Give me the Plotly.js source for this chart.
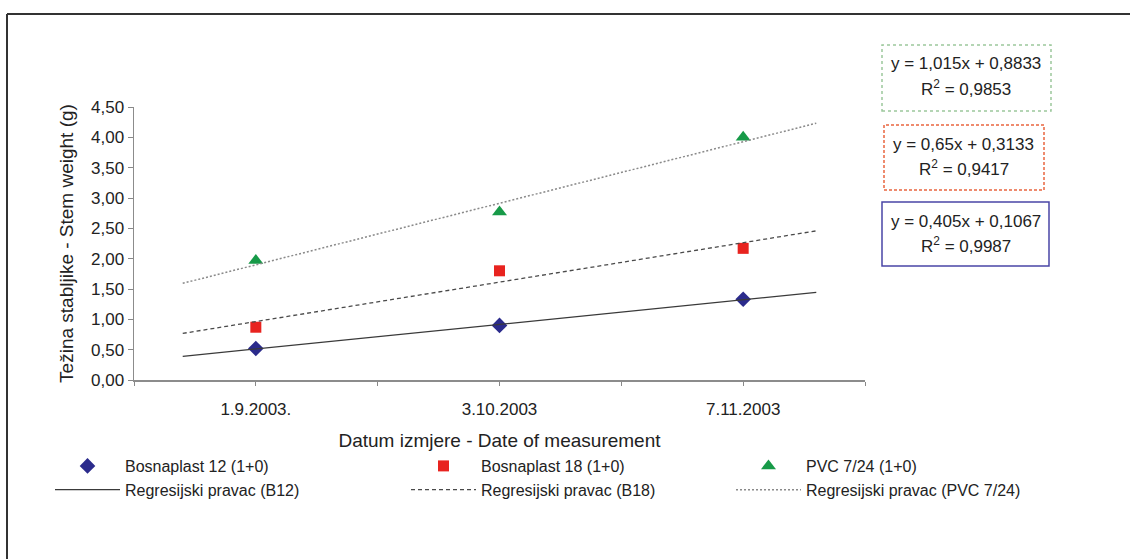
<!DOCTYPE html>
<html>
<head>
<meta charset="utf-8">
<script src="https://cdn.plot.ly/plotly-3.0.1.min.js"></script>
<style>
  html, body { margin: 0; padding: 0; background: #ffffff; }
  #chart { width: 1130px; height: 559px; }
</style>
</head>
<body>
<div id="chart"></div>
<script>
// ---- data ----
const dates = ['1.9.2003.', '3.10.2003', '7.11.2003'];
const bosnaplast12 = [0.52, 0.90, 1.33];
const bosnaplast18 = [0.87, 1.80, 2.17];
const pvc724 = [1.97, 2.77, 4.00];
const seriesNames = ['Bosnaplast 12 (1+0)', 'Bosnaplast 18 (1+0)', 'PVC 7/24 (1+0)'];
const trendNames = ['Regresijski pravac (B12)', 'Regresijski pravac (B18)', 'Regresijski pravac (PVC 7/24)'];
const yTitle = 'Težina stabljike - Stem weight (g)';
const xTitle = 'Datum izmjere - Date of measurement';

// ---- layout geometry (pixels) ----
const W = 1130, H = 559;
const L = 134, R = 865, T = 107, B = 380;
const px2x = p => (p - L) / (R - L);
const px2y = p => (B - p) / (B - T);

const FONT = 'Liberation Sans, Arial, sans-serif';
const idx = dates.map((d, i) => i);

// least squares on Excel-style x = 1..n
function fit(ys) {
  const xs = ys.map((v, i) => i + 1);
  const n = ys.length;
  const mx = xs.reduce((a, b) => a + b, 0) / n;
  const my = ys.reduce((a, b) => a + b, 0) / n;
  let sxy = 0, sxx = 0, sst = 0;
  for (let i = 0; i < n; i++) {
    sxy += (xs[i] - mx) * (ys[i] - my);
    sxx += (xs[i] - mx) ** 2;
    sst += (ys[i] - my) ** 2;
  }
  const m = sxy / sxx, b = my - m * mx;
  let sse = 0;
  for (let i = 0; i < n; i++) sse += (ys[i] - (m * xs[i] + b)) ** 2;
  return { m, b, r2: 1 - sse / sst };
}
const fmt = v => {
  let s = v.toFixed(4).replace(/0+$/, '').replace(/\.$/, '');
  return s.replace('.', ',');
};

const series = [bosnaplast12, bosnaplast18, pvc724];
const markerStyles = [
  { symbol: 'diamond', color: '#2b2b8c', size: 12 },
  { symbol: 'square', color: '#e8231f', size: 11 },
  { symbol: 'triangle-up', color: '#179a48', size: 13 }
];
const lineStyles = [
  { color: '#3a3a3a', width: 1.2, dash: 'solid' },
  { color: '#4a4a4a', width: 1.3, dash: '4px,3px' },
  { color: '#8a8a8a', width: 1.5, dash: '2px,2px' }
];
const legendIds = ['legend', 'legend2', 'legend3'];
const fits = series.map(fit);

const traces = [];
series.forEach((ys, k) => {
  const f = fits[k];
  const x0 = 1 - 0.3, x1 = ys.length + 0.3;
  traces.push({
    type: 'scatter', mode: 'lines', name: trendNames[k],
    x: [x0 - 1, x1 - 1], y: [f.m * x0 + f.b, f.m * x1 + f.b],
    line: lineStyles[k], legend: legendIds[k], hoverinfo: 'skip'
  });
});
series.forEach((ys, k) => {
  traces.push({
    type: 'scatter', mode: 'markers', name: seriesNames[k],
    x: idx, y: ys, marker: markerStyles[k], legend: legendIds[k], cliponaxis: false
  });
});
// order: markers first in each legend
const ordered = [traces[3], traces[0], traces[4], traces[1], traces[5], traces[2]];

// equation boxes
const boxes = [
  { k: 2, x0: 882, x1: 1051, y0: 45, y1: 111, color: '#9cc89c', dash: 'dot', width: 1.5 },
  { k: 1, x0: 884, x1: 1044, y0: 125, y1: 190, color: '#e9653f', dash: '3px,2px', width: 1.5 },
  { k: 0, x0: 882, x1: 1049, y0: 202, y1: 266, color: '#4a45a6', dash: 'solid', width: 1.5 }
];
const shapes = [];
const annotations = [];
boxes.forEach(bx => {
  const f = fits[bx.k];
  shapes.push({
    type: 'rect', xref: 'paper', yref: 'paper',
    x0: px2x(bx.x0), x1: px2x(bx.x1), y0: px2y(bx.y1), y1: px2y(bx.y0),
    line: { color: bx.color, width: bx.width, dash: bx.dash }, fillcolor: 'rgba(0,0,0,0)'
  });
  const cx = px2x((bx.x0 + bx.x1) / 2);
  annotations.push({
    xref: 'paper', yref: 'paper', x: cx, y: px2y(bx.y0 + 19), showarrow: false,
    xanchor: 'center', yanchor: 'middle',
    text: 'y = ' + fmt(f.m) + 'x + ' + fmt(f.b), font: { family: FONT, size: 17, color: '#222' }
  });
  annotations.push({
    xref: 'paper', yref: 'paper', x: cx, y: px2y(bx.y0 + 43), showarrow: false,
    xanchor: 'center', yanchor: 'middle',
    text: 'R<sup>2</sup> = ' + fmt(f.r2), font: { family: FONT, size: 17, color: '#222' }
  });
});
// outer frame (top and left edges)
shapes.push({ type: 'line', xref: 'paper', yref: 'paper', x0: px2x(7), x1: px2x(W + 5), y0: px2y(14), y1: px2y(14), line: { color: '#333', width: 2 } });
shapes.push({ type: 'line', xref: 'paper', yref: 'paper', x0: px2x(7), x1: px2x(7), y0: px2y(14), y1: px2y(H + 5), line: { color: '#333', width: 2 } });

const legendCommon = {
  orientation: 'v', xanchor: 'left', yanchor: 'top', itemwidth: 65,
  font: { family: FONT, size: 16, color: '#222' }, bgcolor: 'rgba(0,0,0,0)',
  itemclick: false, itemdoubleclick: false, tracegroupgap: 0
};
const legendX = [50, 406, 731];
const legendTop = 449;
const layout = {
  width: W, height: H,
  margin: { l: L, r: W - R, t: T, b: H - B, pad: 0 },
  paper_bgcolor: '#ffffff', plot_bgcolor: '#ffffff',
  separators: ',.',
  font: { family: FONT, size: 16, color: '#222' },
  showlegend: true,
  xaxis: {
    range: [-0.5, dates.length - 0.5], tickmode: 'array', tickvals: idx, ticktext: dates,
    ticks: 'outside', ticklen: 4, tickcolor: '#888', tickwidth: 1, ticklabelstandoff: 9,
    minor: { tickmode: 'linear', tick0: -0.5, dtick: 1, ticks: 'outside', ticklen: 4, tickcolor: '#888', tickwidth: 1, showgrid: false },
    showline: true, linecolor: '#8c8c8c', linewidth: 1.5, showgrid: false, zeroline: false,
    tickfont: { family: FONT, size: 17, color: '#222' },
    title: { text: xTitle, font: { family: FONT, size: 19, color: '#222' }, standoff: 16 },
    fixedrange: true
  },
  yaxis: {
    range: [0, 4.5], dtick: 0.5, tick0: 0, tickformat: '.2f',
    ticks: 'outside', ticklen: 5, tickcolor: '#888', tickwidth: 1,
    showline: true, linecolor: '#8c8c8c', linewidth: 1.5, showgrid: false, zeroline: false,
    tickfont: { family: FONT, size: 17, color: '#222' },
    title: { text: yTitle, font: { family: FONT, size: 19, color: '#222' }, standoff: 12 },
    fixedrange: true
  },
  legend: Object.assign({}, legendCommon, { x: px2x(legendX[0]), y: px2y(legendTop) }),
  legend2: Object.assign({}, legendCommon, { x: px2x(legendX[1]), y: px2y(legendTop) }),
  legend3: Object.assign({}, legendCommon, { x: px2x(legendX[2]), y: px2y(legendTop) }),
  shapes: shapes,
  annotations: annotations
};
Plotly.newPlot('chart', ordered, layout, { displayModeBar: false, staticPlot: true });
</script>
</body>
</html>
